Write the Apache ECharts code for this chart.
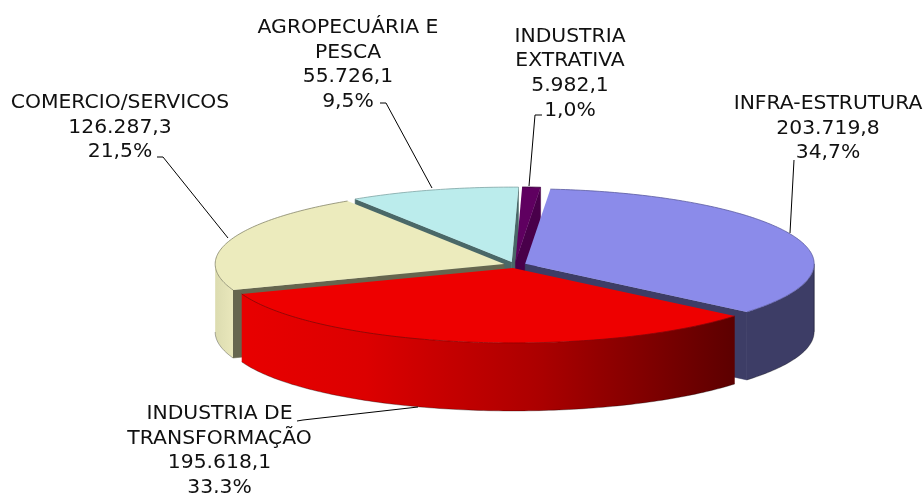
<!DOCTYPE html>
<html><head><meta charset="utf-8">
<style>html,body{margin:0;padding:0;background:#fff}#c{width:923px;height:493px}</style>
<script src="https://cdn.jsdelivr.net/npm/echarts@6/dist/echarts.min.js"></script>
</head><body><div id="c"></div>
<script>
// Data, in pie order (clockwise)
const categories = ['INFRA-ESTRUTURA','INDUSTRIA DE\nTRANSFORMAÇÃO','COMERCIO/SERVICOS','AGROPECUÁRIA E\nPESCA','INDUSTRIA\nEXTRATIVA'];
const values = [203719.8,195618.1,126287.3,55726.1,5982.1];

// Styles
const topColors = ['#8b8bea','#ee0000','#ecebbd','#bbecec','#5f0060'];
const sideColors = ['#3d3d66','#8a0000','#66664f','#4a6868','#49004a'];
const edgeColors = ['#5a5aa0','#8c0000','#85856a','#7fa5a5','#3a003a'];
const wallGradients = [
  [[0,'#3d3d66'],[1,'#3d3d66']],
  [[0,'#e80000'],[0.25,'#dc0000'],[0.6,'#ac0000'],[1,'#5c0000']],
  [[0,'#dcdcb0'],[1,'#e9e7bb']],
  [[0,'#4a6868'],[1,'#4a6868']],
  [[0,'#49004a'],[1,'#49004a']]
];
// Layout
const pie = {cx:514.8, cy:265, rx:289, ry:75, depth:68, explodeX:11.2, explodeY:3, startDeg:5};
const font = {size:19, stretchX:1.07, lineHeight:24.6, family:'"DejaVu Sans", Verdana, sans-serif'};
const labelCenterX = [828,219.5,120,348,570];
const labelTopY = [92,402,91,16,24.5];
const leaderPaths = [
  [[794,160],[790,233]],
  [[297,421],[303,420],[418,407]],
  [[157,157],[163,157],[228,238]],
  [[380,103],[386,103],[432,188]],
  [[542,115],[535,115],[529,186]]
];
const paintOrder = [3,4,2,0,1];

const total = values.reduce((a,b)=>a+b,0);
const angles = []; let acc = pie.startDeg;
values.forEach(v=>{const s=acc; acc+=v/total*360; angles.push([s,acc]);});

const fmtValue = v => {
  const [i,d] = v.toFixed(1).split('.');
  return i.replace(/\B(?=(\d{3})+$)/g,'.')+','+d;
};
const fmtPct = v => (v/total*100).toFixed(1).replace('.',',')+'%';
const labelText = i => categories[i]+'\n'+fmtValue(values[i])+'\n'+fmtPct(values[i]);

const rad = d => d*Math.PI/180;
function arc(tip,a,b,dy){
  const pts=[], n=Math.max(2,Math.ceil(Math.abs(b-a)));
  for(let k=0;k<=n;k++){
    const t=rad(a+(b-a)*k/n);
    pts.push([tip[0]+pie.rx*Math.sin(t), tip[1]-pie.ry*Math.cos(t)+dy]);
  }
  return pts;
}
function grad(stops){
  return {type:'linear',x:0,y:0,x2:1,y2:0,colorStops:stops.map(s=>({offset:s[0],color:s[1]}))};
}
function renderItem(params, api){
  const i = api.value(0), s = api.value(1), e = api.value(2);
  const mid = rad((s+e)/2);
  const tip = [pie.cx+pie.explodeX*Math.sin(mid), pie.cy-pie.explodeY*Math.cos(mid)];
  const tipB = [tip[0], tip[1]+pie.depth];
  const children = [];
  const radial = deg => {
    const top = arc(tip,deg,deg,0)[0];
    children.push({type:'polygon',shape:{points:[tip,top,[top[0],top[1]+pie.depth],tipB]},
      style:{fill:sideColors[i],stroke:sideColors[i],lineWidth:0.5}});
  };
  if(Math.sin(rad(s))<0) radial(s);
  if(Math.sin(rad(e))>0) radial(e);
  // visible outer wall: the front half of the rim
  for(const [lo,hi] of [[90,270]]){
    const a=Math.max(s,lo), b=Math.min(e,hi);
    if(b>a){
      const up=arc(tip,a,b,0), dn=arc(tip,a,b,pie.depth).reverse();
      children.push({type:'polygon',shape:{points:up.concat(dn)},
        style:{fill:grad(wallGradients[i])}});
      if(i===0) children.push({type:'polyline',shape:{points:[up[0],[up[0][0],up[0][1]+pie.depth]]},
        style:{fill:null,stroke:'#22223a',lineWidth:0.8}});
      children.push({type:'polyline',shape:{points:arc(tip,a,b,pie.depth)},
        style:{fill:null,stroke:'rgba(0,0,0,0.45)',lineWidth:0.7}});
    }
  }
  const rim = arc(tip,s,e,0);
  children.push({type:'polygon',shape:{points:[tip].concat(rim)},style:{fill:topColors[i]}});
  children.push({type:'polyline',shape:{points:rim},style:{fill:null,stroke:edgeColors[i],lineWidth:0.8}});
  // label and leader line
  children.push({type:'polyline',z2:20,shape:{points:leaderPaths[i]},style:{fill:null,stroke:'#000',lineWidth:1}});
  children.push({type:'text',z2:20,x:labelCenterX[i],y:labelTopY[i],scaleX:font.stretchX,scaleY:1,style:{text:labelText(i),x:0,y:0,
    align:'center',verticalAlign:'top',fontSize:font.size,fontFamily:font.family,lineHeight:font.lineHeight,fill:'#111'}});
  return {type:'group',children};
}
const chart = echarts.init(document.getElementById('c'),null,{renderer:'canvas',width:923,height:493});
chart.setOption({
  animation:false,
  backgroundColor:'#fff',
  series:[{type:'custom',coordinateSystem:'none',silent:true,renderItem,clip:false,
    data:paintOrder.map(i=>[i,angles[i][0],angles[i][1]])}]
});
</script></body></html>
